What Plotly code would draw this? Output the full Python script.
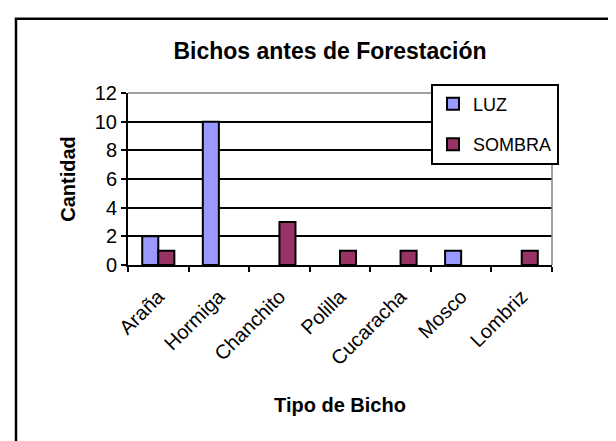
import plotly.graph_objects as go

categorias = ["Araña", "Hormiga", "Chanchito", "Polilla", "Cucaracha", "Mosco", "Lombriz"]
luz = [2, 10, 0, 0, 0, 1, 0]
sombra = [1, 0, 3, 1, 1, 0, 1]
y_ticks = [0, 2, 4, 6, 8, 10, 12]

FONT = "Liberation Sans, Arial, sans-serif"

W, H = 616, 441
L, R, T, B = 120, 72, 84.5, 184
pw, ph = W - L - R, H - T - B

def px(x):
    return (x - L) / pw

def py(y):
    return (H - B - y) / ph

def nz(vals):
    return [v if v else None for v in vals]

fig = go.Figure()
fig.add_trace(go.Bar(
    x=categorias, y=nz(luz), name="LUZ", legendgroup="a",
    marker=dict(color="#9999FF", line=dict(color="black", width=2)),
))
fig.add_trace(go.Bar(
    x=categorias, y=nz(sombra), name="SOMBRA", legendgroup="b",
    marker=dict(color="#993366", line=dict(color="black", width=2)),
))

fig.update_layout(
    width=W, height=H,
    margin=dict(l=L, r=R, t=T, b=B),
    paper_bgcolor="white", plot_bgcolor="white",
    font=dict(family=FONT, color="black", size=19),
    barmode="group", bargap=0.47, bargroupgap=0,
    title=dict(text="<b>Bichos antes de Forestación</b>", x=322 / W,
               xanchor="center", y=1 - 43 / H, yanchor="middle",
               font=dict(size=23, family=FONT)),
    legend=dict(
        x=px(423), y=py(75), xanchor="left", yanchor="top",
        bgcolor="white", bordercolor="black", borderwidth=2,
        font=dict(size=18, family=FONT), tracegroupgap=14,
        itemwidth=30,
    ),
    xaxis=dict(
        tickangle=-45, tickson="boundaries", ticks="outside", ticklen=5,
        tickcolor="black", tickwidth=2, showline=True, linecolor="black", linewidth=2,
        showgrid=False, tickfont=dict(size=20), ticklabelstandoff=10,
        title=dict(text="<b>Tipo de Bicho</b>", font=dict(size=20), standoff=30),
    ),
    yaxis=dict(
        range=[0, 12], tickvals=y_ticks, ticks="outside", ticklen=5,
        tickcolor="black", tickwidth=2, showline=True, linecolor="black", linewidth=2,
        gridcolor="black", gridwidth=1.5, zeroline=False, tickfont=dict(size=20),
        title=dict(text="<b>Cantidad</b>", font=dict(size=20), standoff=14),
    ),
    shapes=[
        dict(type="line", xref="paper", yref="paper", x0=0, x1=1, y0=1, y1=1,
             line=dict(color="#808080", width=1.5), layer="above"),
        dict(type="line", xref="paper", yref="paper", x0=1, x1=1, y0=0, y1=1,
             line=dict(color="#808080", width=1.5), layer="above"),
        dict(type="rect", xref="paper", yref="paper", x0=px(8), x1=px(640),
             y0=py(460), y1=py(10), line=dict(color="black", width=2.5),
             fillcolor="rgba(0,0,0,0)", layer="below"),
    ],
)

fig.write_html("out.html")
